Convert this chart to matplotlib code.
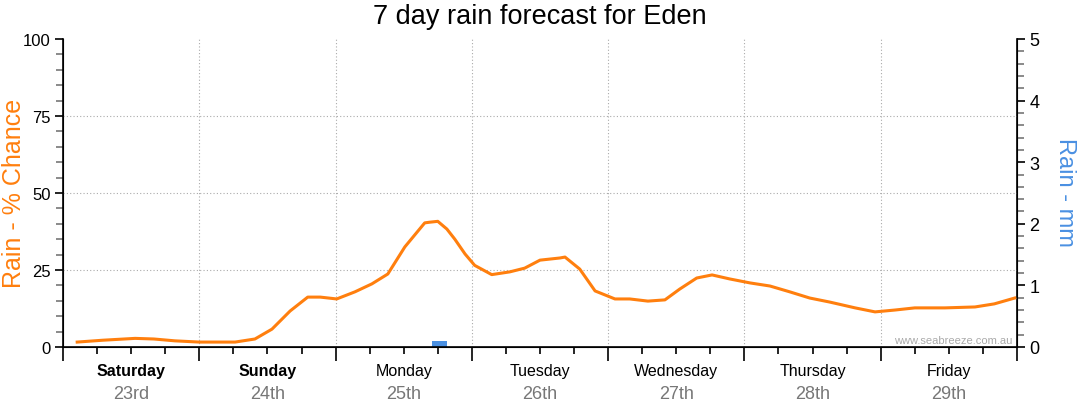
import matplotlib.pyplot as plt
from matplotlib.ticker import MultipleLocator
from matplotlib.transforms import blended_transform_factory

# hours from start of Saturday, rain chance in %
hours = [2.5, 7, 12.7, 16, 19.7, 24, 30.3, 33.8, 36.8, 40, 43.1, 45.3, 48.2,
         51.4, 54.4, 57.2, 60.2, 63.7, 64.5, 66, 67.6, 69, 70.8, 72.5, 75.5,
         78.7, 81.3, 84, 87.5, 88.4, 91, 93.7, 97.2, 99.8, 103, 106, 108.6,
         111.6, 114.3, 117.4, 121, 124.5, 128, 131.5, 135, 139.5, 143, 146.5,
         150, 155.3, 160.6, 164, 167.6]
chance = [1.6, 2.2, 2.8, 2.6, 2.0, 1.6, 1.6, 2.6, 5.8, 11.7, 16.2, 16.2, 15.6,
          17.9, 20.5, 23.7, 32.5, 40.3, 40.5, 40.8, 38.3, 35, 30.2, 26.5, 23.5,
          24.4, 25.6, 28.2, 28.9, 29.2, 25.3, 18.2, 15.6, 15.6, 14.9, 15.3, 18.8,
          22.4, 23.4, 22.1, 20.8, 19.8, 17.9, 15.9, 14.6, 12.7, 11.4, 12.0,
          12.7, 12.7, 13.0, 14.0, 15.9]

# rain amount in mm
rain_hours = [66.3]
rain_mm = [0.1]

days = ["Saturday", "Sunday", "Monday", "Tuesday", "Wednesday", "Thursday", "Friday"]
dates = ["23rd", "24th", "25th", "26th", "27th", "28th", "29th"]
weekend = ["Saturday", "Sunday"]

orange = "#ff7f0e"
blue = "#4a90e2"

plt.rcParams['font.family'] = ['Liberation Sans', 'DejaVu Sans']

fig = plt.figure(figsize=(10.8, 4.14), dpi=100)
ax = fig.add_axes([63 / 1080, 1 - 348 / 414, 954 / 1080, 308 / 414])
ax2 = ax.twinx()

ax.set_xlim(0, 168)
ax.set_ylim(0, 100)
ax2.set_ylim(0, 5)

ax2.bar(rain_hours, rain_mm, width=2.5, color=blue, zorder=2)
ax.plot(hours, chance, color=orange, lw=2.2, zorder=5)
ax.set_zorder(ax2.get_zorder() + 1)
ax.patch.set_visible(False)

# grid
for y in [25, 50, 75]:
    ax.axhline(y, color="#aaaaaa", lw=0.8, ls=(0, (1, 2)), zorder=1)
for x in range(24, 168, 24):
    ax.axvline(x, color="#aaaaaa", lw=0.8, ls=(0, (1, 2)), zorder=1)

# spines
ax.spines["top"].set_visible(False)
ax2.spines["top"].set_visible(False)
for sp in ["left", "bottom"]:
    ax.spines[sp].set_linewidth(1.2)
ax2.spines["right"].set_linewidth(1.2)

# left axis ticks
ax.yaxis.set_major_locator(MultipleLocator(25))
ax.yaxis.set_minor_locator(MultipleLocator(5))
ax.tick_params(axis="y", which="major", length=6, width=1.2, labelsize=12, pad=3)
ax.tick_params(axis="y", which="minor", length=5, width=1.2, color="#777777")

# right axis ticks
ax2.yaxis.set_major_locator(MultipleLocator(1))
ax2.yaxis.set_minor_locator(MultipleLocator(0.2))
ax2.tick_params(axis="y", which="major", length=6, width=1.2, labelsize=13, pad=3)
ax2.tick_params(axis="y", which="minor", length=5, width=1.2, color="#777777")

# x ticks
ax.xaxis.set_major_locator(MultipleLocator(24))
ax.xaxis.set_minor_locator(MultipleLocator(6))
ax.tick_params(axis="x", which="major", length=10, width=1.2, labelbottom=False)
ax.tick_params(axis="x", which="minor", length=5, width=1.2)

trans = blended_transform_factory(ax.transData, ax.transAxes)
for i, (d, dt) in enumerate(zip(days, dates)):
    cx = i * 24 + 12
    ax.text(cx, -0.075, d, transform=trans, ha="center", va="center", fontsize=11.5,
            fontweight="bold" if d in weekend else "normal", color="black")
    ax.text(cx, -0.152, dt, transform=trans, ha="center", va="center", fontsize=13,
            color="#777777")

ax.set_ylabel("Rain - % Chance", color=orange, fontsize=18, va="center")
ax.yaxis.set_label_coords(-0.051, 0.503)
ax2.set_ylabel("Rain - mm", color=blue, fontsize=17, rotation=270, va="center")
ax2.yaxis.set_label_coords(1.05, 0.505)

fig.text(0.5, 0.958, "7 day rain forecast for Eden", ha="center", va="center", fontsize=19.5)

ax.text(0.995, 0.008, "www.seabreeze.com.au", transform=ax.transAxes, ha="right",
        va="bottom", fontsize=8, color="#aaaaaa")

fig.savefig("out.png", dpi=100)
